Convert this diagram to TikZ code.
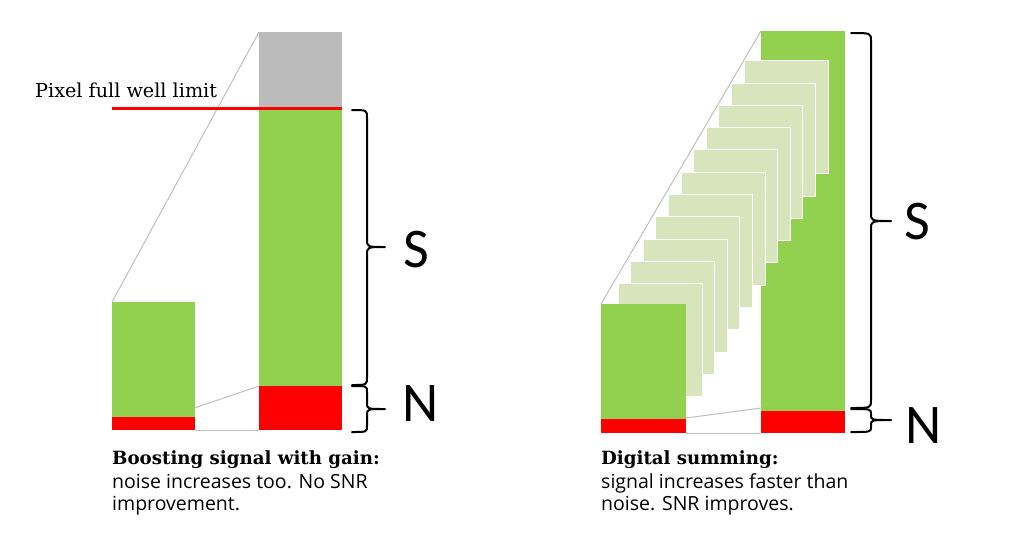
\documentclass[tikz,border=0pt]{standalone}
\usepackage{fontspec}
\setmainfont{Open Sans}
\newfontfamily\slabfont{DejaVu Serif}
\newfontfamily\bigsans{Carlito}
\definecolor{barGreen}{HTML}{92D050}
\definecolor{barRed}{HTML}{FF0000}
\definecolor{barGray}{HTML}{BBBBBB}
\definecolor{frameGreen}{HTML}{D8E4BC}
\definecolor{lineGray}{HTML}{BFBFBF}
\tikzset{
  gline/.style={draw=lineGray, line width=1pt},
  bracepath/.style={draw=black, line width=2pt, line join=round, line cap=round},
  framebox/.style={fill=frameGreen, draw=white, line width=1pt},
  letter/.style={font=\bigsans\fontsize{56}{60}\selectfont, inner sep=0pt, anchor=center},
  caphead/.style={font=\slabfont\bfseries\fontsize{18.2}{22}\selectfont, inner sep=0pt, anchor=base west},
  capbody/.style={font=\fontsize{19.5}{22}\selectfont, inner sep=0pt, anchor=base west},
  limitlabel/.style={font=\slabfont\fontsize{19.2}{22}\selectfont, inner sep=0pt, anchor=base west},
}
\newcommand\myvbrace[7]{% x0 xm xt y1 ym y2 r
  \draw[bracepath] (#1,#4) .. controls (#2,#4) .. (#2,#4+#7) -- (#2,#5-#7)
    .. controls (#2,#5) .. (#3,#5) .. controls (#2,#5) .. (#2,#5+#7)
    -- (#2,#6-#7) .. controls (#2,#6) .. (#1,#6);}
\begin{document}
\begin{tikzpicture}[x=1pt,y=-1pt]
\useasboundingbox (0,0) rectangle (1020,547);
% ---------- left diagram ----------
\coordinate (lsTL) at (112,302);
\coordinate (lsMR) at (194.5,408);
\coordinate (lsBR) at (194.5,430);
\coordinate (lbTL) at (259,32);
\coordinate (lbNL) at (259,386);
\coordinate (lbBL) at (259,430);
\fill[barGreen] (112,302) rectangle (194.5,417);
\fill[barRed] (112,417) rectangle (194.5,430);
\fill[barGray] (259,32) rectangle (342,108);
\fill[barGreen] (259,108) rectangle (342,386);
\fill[barRed] (259,386) rectangle (342,430);
\draw[gline] (lsTL) -- (lbTL);
\draw[gline] (lsMR) -- (lbNL);
\draw[gline] (lsBR) -- (lbBL);
\coordinate (wellL) at (112,108);
\coordinate (wellR) at (342,108);
\draw[barRed, line width=3pt] (wellL) -- (wellR);
\node[limitlabel] (lim) at (35,97.5) {Pixel full well limit};
\myvbrace{352}{367}{385}{110}{247}{385}{8}
\myvbrace{352}{367}{385}{386}{409}{432}{6}
\node[letter] (lS) at (416,249.5) {S};
\node[letter] (lN) at (421,404) {N};
\node[caphead] (lc1) at (112,464) {Boosting signal with gain:};
\node[capbody] (lc2) at (112,488) {noise increases too. No SNR};
\node[capbody] (lc3) at (112,510) {improvement.};
% ---------- right diagram ----------
\coordinate (rsTL) at (601,304);
\coordinate (rsMR) at (686,418);
\coordinate (rsBR) at (686,433);
\coordinate (rbTL) at (761,31);
\coordinate (rbNL) at (761,408);
\coordinate (rbBL) at (761,433);
\fill[barGreen] (761,31) rectangle (845,411);
\fill[barRed] (761,411) rectangle (845,433);
\draw[gline] (rsTL) -- (rbTL);
\foreach \k in {0,...,10} {
  \pgfmathsetmacro\fx{744-12.6*\k}
  \pgfmathsetmacro\fy{60.7+22.3*\k}
  \path[framebox] (\fx,\fy) rectangle ++(84,113);
}
\fill[barGreen] (601,304) rectangle (686,419);
\fill[barRed] (601,419) rectangle (686,433);
\draw[gline] (rsMR) -- (rbNL);
\draw[gline] (rsBR) -- (rbBL);
\myvbrace{851}{871}{891}{33}{221}{408}{8}
\myvbrace{851}{871}{891}{409}{420}{432}{5}
\node[letter] (rS) at (917.5,221.5) {S};
\node[letter] (rN) at (923.5,426) {N};
\node[caphead] (rc1) at (601,464) {Digital summing:};
\node[capbody] (rc2) at (601,488) {signal increases faster than};
\node[capbody] (rc3) at (601,510) {noise. SNR improves.};
\end{tikzpicture}
\end{document}
